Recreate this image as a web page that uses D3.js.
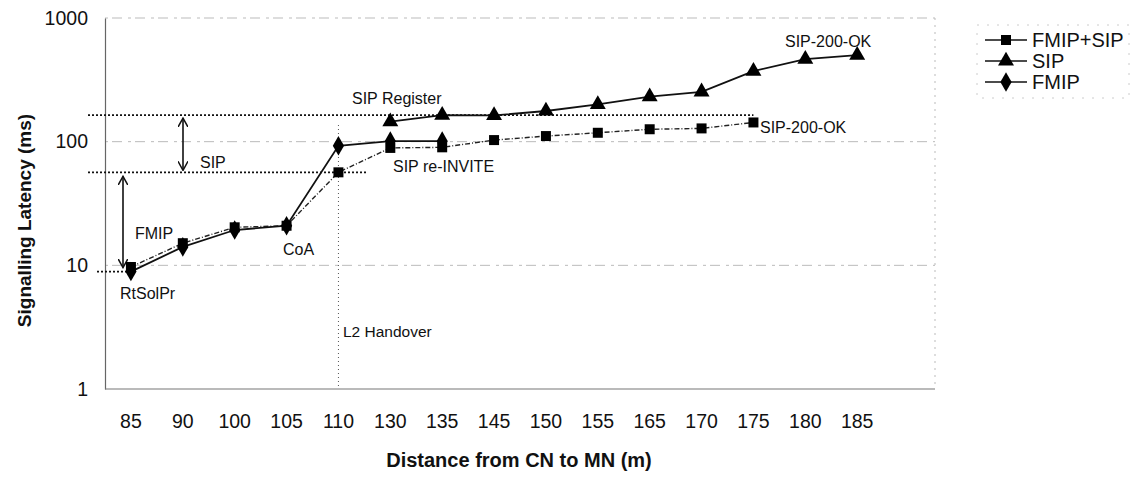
<!DOCTYPE html>
<html>
<head>
<meta charset="utf-8">
<script src="https://cdn.jsdelivr.net/npm/d3@7"></script>
<style>
  body { margin: 0; background: #fff; }
  svg { font-family: Arial, "Liberation Sans", sans-serif; }
</style>
</head>
<body>
<div id="chart"></div>
<script>
// distances (m)
const categories = ["85", "90", "100", "105", "110", "130", "135", "145", "150", "155", "165", "170", "175", "180", "185"];

// signalling latency (ms)
const fmipSip = [9.7, 15.1, 20.3, 20.9, 56.5, 89, 90, 103, 111, 118, 126, 128, 143];
const sip = [145, 164, 163, 177, 200, 231, 253, 372, 465, 501];
const fmip = [8.9, 14.1, 19.3, 20.9, 92.7, 101, 101];

const yTicks = [1, 10, 100, 1000];

const series = [
  { name: "FMIP+SIP", start: "85", values: fmipSip, marker: "square", dash: "5,2,1,2", color: "#222", width: 1.4 },
  { name: "SIP", start: "130", values: sip, marker: "triangle", dash: null, color: "#111", width: 1.8 },
  { name: "FMIP", start: "85", values: fmip, marker: "diamond", dash: null, color: "#111", width: 1.8 }
];

const width = 1134, height = 489;
const plotL = 105, plotR = 935, plotT = 18, plotB = 389;

const svg = d3.select("#chart").append("svg")
  .attr("width", width)
  .attr("height", height);

// 15 categories plus one empty slot on the right
const x = d3.scaleBand()
  .domain(categories)
  .range([plotL, plotL + (plotR - plotL) * 15 / 16])
  .padding(0);
const cx = c => x(c) + x.bandwidth() / 2;

const y = d3.scaleLog().domain([1, 1000]).range([plotB, plotT]);

// gridlines
svg.append("g").selectAll("line")
  .data([10, 100, 1000])
  .join("line")
  .attr("x1", plotL).attr("x2", plotR)
  .attr("y1", d => y(d)).attr("y2", d => y(d))
  .attr("stroke", "#bbb")
  .attr("stroke-width", 1)
  .attr("stroke-dasharray", "3,4,10,6");

// right border of the plot area
svg.append("line")
  .attr("x1", plotR).attr("x2", plotR)
  .attr("y1", plotT).attr("y2", plotB)
  .attr("stroke", "#bbb")
  .attr("stroke-dasharray", "2,5");

// axes
const yAxis = svg.append("g")
  .attr("transform", `translate(${plotL},0)`)
  .call(d3.axisLeft(y).tickValues(yTicks).tickSize(0).tickPadding(17).tickFormat(d3.format("d")));
yAxis.select(".domain").attr("stroke", "#666").attr("stroke-width", 1.2);
yAxis.selectAll("text").attr("font-size", 19.5).attr("fill", "#111")
  .attr("font-family", "Arial, 'Liberation Sans', sans-serif");

const xAxis = svg.append("g")
  .attr("transform", `translate(0,${plotB})`)
  .call(d3.axisBottom(x).tickSize(0).tickPadding(25));
xAxis.select(".domain").attr("d", `M${plotL},0H${plotR}`).attr("stroke", "#777").attr("stroke-width", 1.2);
xAxis.selectAll("text").attr("font-size", 19.5).attr("fill", "#111")
  .attr("font-family", "Arial, 'Liberation Sans', sans-serif");

// axis titles
svg.append("text")
  .attr("transform", `translate(31,${(plotT + plotB) / 2 + 17}) rotate(-90)`)
  .attr("text-anchor", "middle")
  .attr("font-size", 19)
  .attr("font-weight", "bold")
  .attr("fill", "#111")
  .text("Signalling Latency (ms)");

svg.append("text")
  .attr("x", 519).attr("y", 467)
  .attr("text-anchor", "middle")
  .attr("font-size", 20)
  .attr("font-weight", "bold")
  .attr("fill", "#111")
  .text("Distance from CN to MN (m)");

// reference dotted lines
const dotted = svg.append("g")
  .attr("stroke", "#111")
  .attr("stroke-width", 1.6)
  .attr("stroke-dasharray", "2,2");
dotted.append("line")
  .attr("x1", 88).attr("x2", cx("175"))
  .attr("y1", y(sip[1])).attr("y2", y(sip[1]));
dotted.append("line")
  .attr("x1", 88).attr("x2", cx("110") + 28)
  .attr("y1", y(fmipSip[4])).attr("y2", y(fmipSip[4]));
dotted.append("line")
  .attr("x1", 97).attr("x2", cx("85"))
  .attr("y1", y(fmip[0])).attr("y2", y(fmip[0]));

// L2 handover line
svg.append("line")
  .attr("x1", cx("110")).attr("x2", cx("110"))
  .attr("y1", 125).attr("y2", plotB)
  .attr("stroke", "#555")
  .attr("stroke-width", 1)
  .attr("stroke-dasharray", "1,3");

// arrows
const defs = svg.append("defs");
defs.append("marker")
  .attr("id", "head")
  .attr("viewBox", "0 0 10 10")
  .attr("refX", 9).attr("refY", 5)
  .attr("markerWidth", 10).attr("markerHeight", 10)
  .attr("markerUnits", "userSpaceOnUse")
  .attr("orient", "auto-start-reverse")
  .append("path")
  .attr("d", "M0,0L9,5L0,10")
  .attr("fill", "none")
  .attr("stroke", "#111")
  .attr("stroke-width", 1.5);

function arrow(xp, y1, y2) {
  svg.append("line")
    .attr("x1", xp).attr("x2", xp)
    .attr("y1", y1).attr("y2", y2)
    .attr("stroke", "#111")
    .attr("stroke-width", 1.6)
    .attr("marker-start", "url(#head)")
    .attr("marker-end", "url(#head)");
}
arrow(183, y(sip[1]) + 3, y(fmipSip[4]) - 2);
arrow(123, y(fmipSip[4]) + 4, y(fmip[0]) - 4);

// data lines
const symbols = {
  square: d3.symbol().type(d3.symbolSquare).size(100),
  triangle: d3.symbol().type(d3.symbolTriangle).size(110),
  diamond: d3.symbol().type(d3.symbolDiamond).size(110)
};

const line = d3.line().x(d => cx(d.c)).y(d => y(d.v));

series.forEach(s => {
  const i0 = categories.indexOf(s.start);
  const pts = s.values.map((v, i) => ({ c: categories[i0 + i], v }));
  s.pts = pts;
  svg.append("path")
    .datum(pts)
    .attr("d", line)
    .attr("fill", "none")
    .attr("stroke", s.color)
    .attr("stroke-width", s.width)
    .attr("stroke-dasharray", s.dash);
});

series.forEach(s => {
  svg.append("g").selectAll("path")
    .data(s.pts)
    .join("path")
    .attr("transform", d => `translate(${cx(d.c)},${y(d.v)})`)
    .attr("d", symbols[s.marker])
    .attr("fill", "#000");
});

// annotations
const notes = [
  { t: "RtSolPr", x: 120, y: 299 },
  { t: "CoA", x: 283, y: 255 },
  { t: "FMIP", x: 135, y: 239 },
  { t: "SIP", x: 200, y: 168 },
  { t: "SIP Register", x: 352, y: 104 },
  { t: "SIP re-INVITE", x: 393, y: 172 },
  { t: "SIP-200-OK", x: 785, y: 47 },
  { t: "SIP-200-OK", x: 760, y: 133 },
  { t: "L2 Handover", x: 343, y: 337 }
];
svg.append("g").selectAll("text")
  .data(notes)
  .join("text")
  .attr("x", d => d.x).attr("y", d => d.y)
  .attr("font-size", d => d.t === "L2 Handover" ? 15.5 : 16)
  .attr("fill", "#111")
  .text(d => d.t);

// legend
const legend = svg.append("g");
legend.append("rect")
  .attr("x", 977).attr("y", 25)
  .attr("width", 152).attr("height", 73)
  .attr("fill", "none")
  .attr("stroke", "#ccc")
  .attr("stroke-dasharray", "2,8");
series.forEach((s, i) => {
  const ly = 40 + i * 21;
  legend.append("line")
    .attr("x1", 985).attr("x2", 1027)
    .attr("y1", ly).attr("y2", ly)
    .attr("stroke", "#111")
    .attr("stroke-width", 1.5);
  legend.append("path")
    .attr("transform", `translate(1006,${ly})`)
    .attr("d", symbols[s.marker])
    .attr("fill", "#000");
  legend.append("text")
    .attr("x", 1032).attr("y", ly + 7)
    .attr("font-size", 20)
    .attr("fill", "#111")
    .text(s.name);
});
</script>
</body>
</html>
